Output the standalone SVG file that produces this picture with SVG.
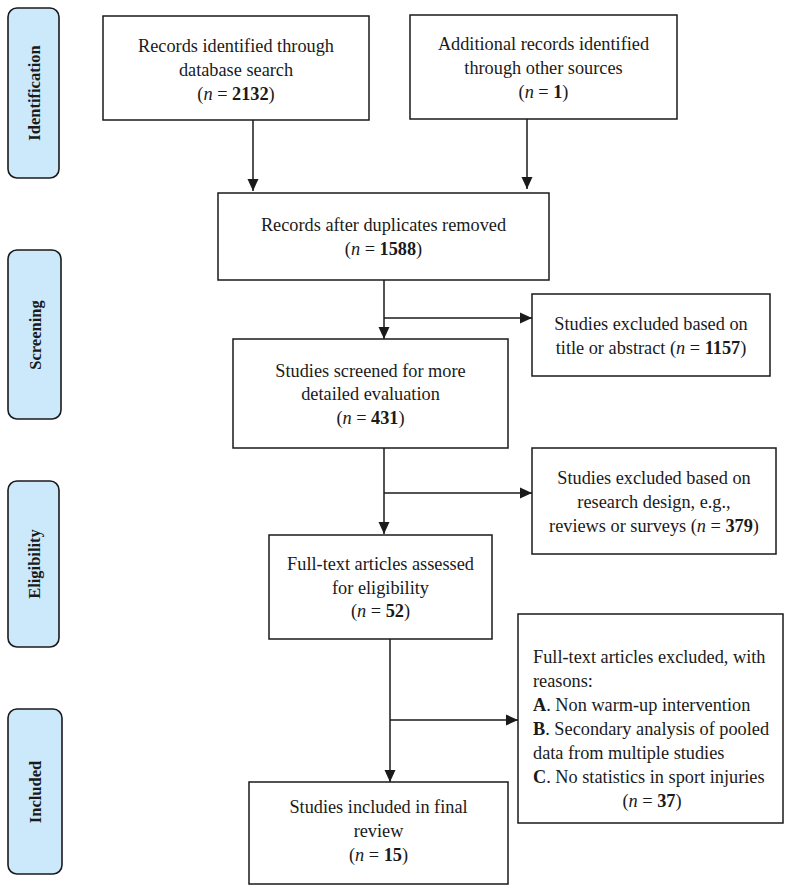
<svg xmlns="http://www.w3.org/2000/svg" width="790" height="890" viewBox="0 0 790 890">
<style>
.box{fill:#fff;stroke:#1a1a1a;stroke-width:1.5}
.phase{fill:#cce9fb;stroke:#1a1a1a;stroke-width:1.6}
.t{font-family:"Liberation Serif","DejaVu Serif",serif;font-size:18.3px;fill:#1a1a1a;text-anchor:middle}
.l{text-anchor:start}
.p{font-family:"Liberation Serif","DejaVu Serif",serif;font-size:16.5px;font-weight:bold;fill:#1a1a1a;text-anchor:middle}
.i{font-style:italic}
.b{font-weight:bold}
.c{fill:none;stroke:#1a1a1a;stroke-width:1.5}
</style>
<defs>
<marker id="ah" markerUnits="userSpaceOnUse" markerWidth="12" markerHeight="12" viewBox="0 0 12 12" refX="12" refY="6" orient="auto">
<path d="M0,0.5 L12,6 L0,11.5 Z" fill="#1a1a1a"/>
</marker>
</defs>
<rect width="790" height="890" fill="#fff"/>
<g id="phase-identification"><rect class="phase" x="8" y="8" width="51" height="170" rx="9"/><text class="p" transform="translate(39.5,93) rotate(-90)">Identification</text></g>
<g id="phase-screening"><rect class="phase" x="8" y="250" width="53" height="169" rx="9"/><text class="p" transform="translate(40.5,335) rotate(-90)">Screening</text></g>
<g id="phase-eligibility"><rect class="phase" x="8" y="481" width="51" height="166" rx="9"/><text class="p" transform="translate(39.5,564) rotate(-90)">Eligibility</text></g>
<g id="phase-included"><rect class="phase" x="8" y="709" width="54" height="165" rx="9"/><text class="p" transform="translate(40.5,792) rotate(-90)">Included</text></g>

<g id="connectors">
<line class="c" x1="253" y1="120" x2="253" y2="191" marker-end="url(#ah)"/>
<line class="c" x1="527" y1="119" x2="527" y2="189" marker-end="url(#ah)"/>
<line class="c" x1="384" y1="280" x2="384" y2="339" marker-end="url(#ah)"/>
<line class="c" x1="384" y1="318" x2="532" y2="318" marker-end="url(#ah)"/>
<line class="c" x1="384" y1="448" x2="384" y2="534" marker-end="url(#ah)"/>
<line class="c" x1="384" y1="493" x2="532" y2="493" marker-end="url(#ah)"/>
<line class="c" x1="390" y1="639" x2="390" y2="782" marker-end="url(#ah)"/>
<line class="c" x1="390" y1="720" x2="518" y2="720" marker-end="url(#ah)"/>
</g>

<g id="n-database">
<rect class="box" x="103" y="16" width="266" height="104"/>
<text class="t" x="236" y="52">Records identified through</text>
<text class="t" x="236" y="76">database search</text>
<text class="t" x="236" y="100">(<tspan class="i">n</tspan> = <tspan class="b">2132</tspan>)</text>
</g>
<g id="n-other">
<rect class="box" x="410" y="15" width="267" height="104"/>
<text class="t" x="543.5" y="50">Additional records identified</text>
<text class="t" x="543.5" y="74">through other sources</text>
<text class="t" x="543.5" y="98">(<tspan class="i">n</tspan> = <tspan class="b">1</tspan>)</text>
</g>
<g id="n-dedup">
<rect class="box" x="218" y="193" width="331" height="87"/>
<text class="t" x="383.5" y="231">Records after duplicates removed</text>
<text class="t" x="383.5" y="255">(<tspan class="i">n</tspan> = <tspan class="b">1588</tspan>)</text>
</g>
<g id="n-excl1">
<rect class="box" x="532" y="294" width="238" height="82"/>
<text class="t" x="651" y="330">Studies excluded based on</text>
<text class="t" x="651" y="354">title or abstract (<tspan class="i">n</tspan> = <tspan class="b">1157</tspan>)</text>
</g>
<g id="n-screened">
<rect class="box" x="233" y="339" width="275" height="109"/>
<text class="t" x="370.5" y="377">Studies screened for more</text>
<text class="t" x="370.5" y="400">detailed evaluation</text>
<text class="t" x="370.5" y="424">(<tspan class="i">n</tspan> = <tspan class="b">431</tspan>)</text>
</g>
<g id="n-excl2">
<rect class="box" x="532" y="448" width="244" height="106"/>
<text class="t" x="654" y="484">Studies excluded based on</text>
<text class="t" x="654" y="508">research design, e.g.,</text>
<text class="t" x="654" y="532">reviews or surveys (<tspan class="i">n</tspan> = <tspan class="b">379</tspan>)</text>
</g>
<g id="n-fulltext">
<rect class="box" x="269" y="535" width="223" height="104"/>
<text class="t" x="380.5" y="570">Full-text articles assessed</text>
<text class="t" x="380.5" y="594">for eligibility</text>
<text class="t" x="380.5" y="617">(<tspan class="i">n</tspan> = <tspan class="b">52</tspan>)</text>
</g>
<g id="n-excl3">
<rect class="box" x="518" y="614" width="265" height="209"/>
<text class="t l" x="533" y="663">Full-text articles excluded, with</text>
<text class="t l" x="533" y="687">reasons:</text>
<text class="t l" x="533" y="711"><tspan class="b">A</tspan>. Non warm-up intervention</text>
<text class="t l" x="533" y="735"><tspan class="b">B</tspan>. Secondary analysis of pooled</text>
<text class="t l" x="533" y="759">data from multiple studies</text>
<text class="t l" x="533" y="783"><tspan class="b">C</tspan>. No statistics in sport injuries</text>
<text class="t" x="652" y="807">(<tspan class="i">n</tspan> = <tspan class="b">37</tspan>)</text>
</g>
<g id="n-included">
<rect class="box" x="249" y="782" width="259" height="102"/>
<text class="t" x="378.5" y="813">Studies included in final</text>
<text class="t" x="378.5" y="837">review</text>
<text class="t" x="378.5" y="861">(<tspan class="i">n</tspan> = <tspan class="b">15</tspan>)</text>
</g>
</svg>
